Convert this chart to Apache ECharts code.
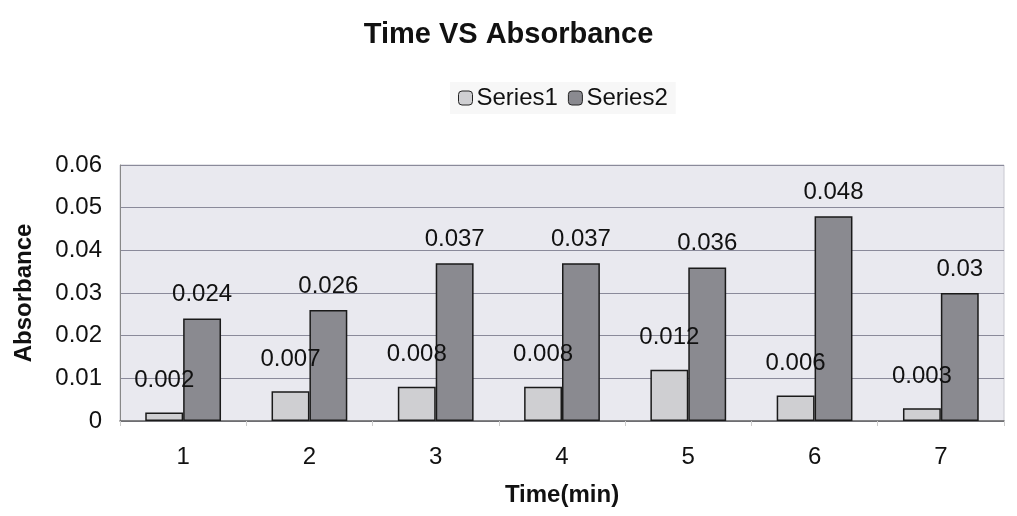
<!DOCTYPE html>
<html>
<head>
<meta charset="utf-8">
<script src="https://cdn.jsdelivr.net/npm/echarts@6/dist/echarts.min.js"></script>
<style>
  html, body { margin: 0; padding: 0; background: #fff; }
  #chart { width: 1017px; height: 516px; }
</style>
</head>
<body>
<div id="chart"></div>
<script>
// time in minutes
const categories = ['1', '2', '3', '4', '5', '6', '7']
const series1 = [0.002, 0.007, 0.008, 0.008, 0.012, 0.006, 0.003]
const series2 = [0.024, 0.026, 0.037, 0.037, 0.036, 0.048, 0.03]
const yTicks = [0, 0.01, 0.02, 0.03, 0.04, 0.05, 0.06]

const chart = echarts.init(document.getElementById('chart'))

const font = 'Liberation Sans, Arial'
const labelStyle = {
  show: true,
  position: 'top',
  fontFamily: font,
  fontSize: 24,
  color: '#111'
}

chart.setOption({
  backgroundColor: '#fff',
  title: {
    text: 'Time VS Absorbance',
    left: 'center',
    top: 15,
    textStyle: {
      fontFamily: font,
      fontSize: 29,
      fontWeight: 'bold',
      color: '#111'
    }
  },
  legend: {
    top: 82,
    left: 450,
    itemWidth: 14,
    itemHeight: 14,
    itemGap: 10,
    padding: [4, 8],
    backgroundColor: '#f7f7f7',
    textStyle: {
      fontFamily: font,
      fontSize: 24,
      color: '#111',
      padding: [0, 0, 0, -1]
    },
    data: [
      { name: 'Series1', itemStyle: { color: '#cfcfd2', borderColor: '#222', borderWidth: 1 } },
      { name: 'Series2', itemStyle: { color: '#8a8a90', borderColor: '#222', borderWidth: 1 } }
    ]
  },
  grid: {
    left: 120,
    right: 13,
    top: 165,
    bottom: 95,
    show: true,
    backgroundColor: '#e9e9ef',
    borderColor: '#c8c8d0',
    borderWidth: 1
  },
  xAxis: {
    type: 'category',
    data: categories,
    name: 'Time(min)',
    nameLocation: 'middle',
    nameGap: 62,
    nameTextStyle: {
      fontFamily: font,
      fontSize: 24,
      fontWeight: 'bold',
      color: '#111'
    },
    axisLine: { lineStyle: { color: '#666', width: 1.5 } },
    axisTick: { show: true, length: 5, lineStyle: { color: '#ccc' } },
    axisLabel: {
      margin: 24,
      fontFamily: font,
      fontSize: 24,
      color: '#111'
    }
  },
  yAxis: {
    type: 'value',
    min: yTicks[0],
    max: yTicks[yTicks.length - 1],
    interval: 0.01,
    name: 'Absorbance',
    nameLocation: 'middle',
    nameGap: 84,
    nameTextStyle: {
      fontFamily: font,
      fontSize: 24,
      fontWeight: 'bold',
      color: '#111'
    },
    axisLine: { show: true, lineStyle: { color: '#888' } },
    axisTick: { show: false },
    axisLabel: {
      margin: 18,
      fontFamily: font,
      fontSize: 24,
      color: '#111',
      formatter: v => String(Math.round(v * 100) / 100)
    },
    splitLine: { lineStyle: { color: '#8a8a9a', width: 1 } }
  },
  series: [
    {
      name: 'Series1',
      type: 'bar',
      data: series1,
      barGap: '0%',
      barCategoryGap: '40%',
      itemStyle: { color: '#cfcfd2', borderColor: '#1a1a1a', borderWidth: 1.5 },
      label: Object.assign({ distance: 20 }, labelStyle)
    },
    {
      name: 'Series2',
      type: 'bar',
      data: series2,
      itemStyle: { color: '#8a8a90', borderColor: '#1a1a1a', borderWidth: 1.5 },
      label: Object.assign({ distance: 12 }, labelStyle)
    }
  ]
})
</script>
</body>
</html>
